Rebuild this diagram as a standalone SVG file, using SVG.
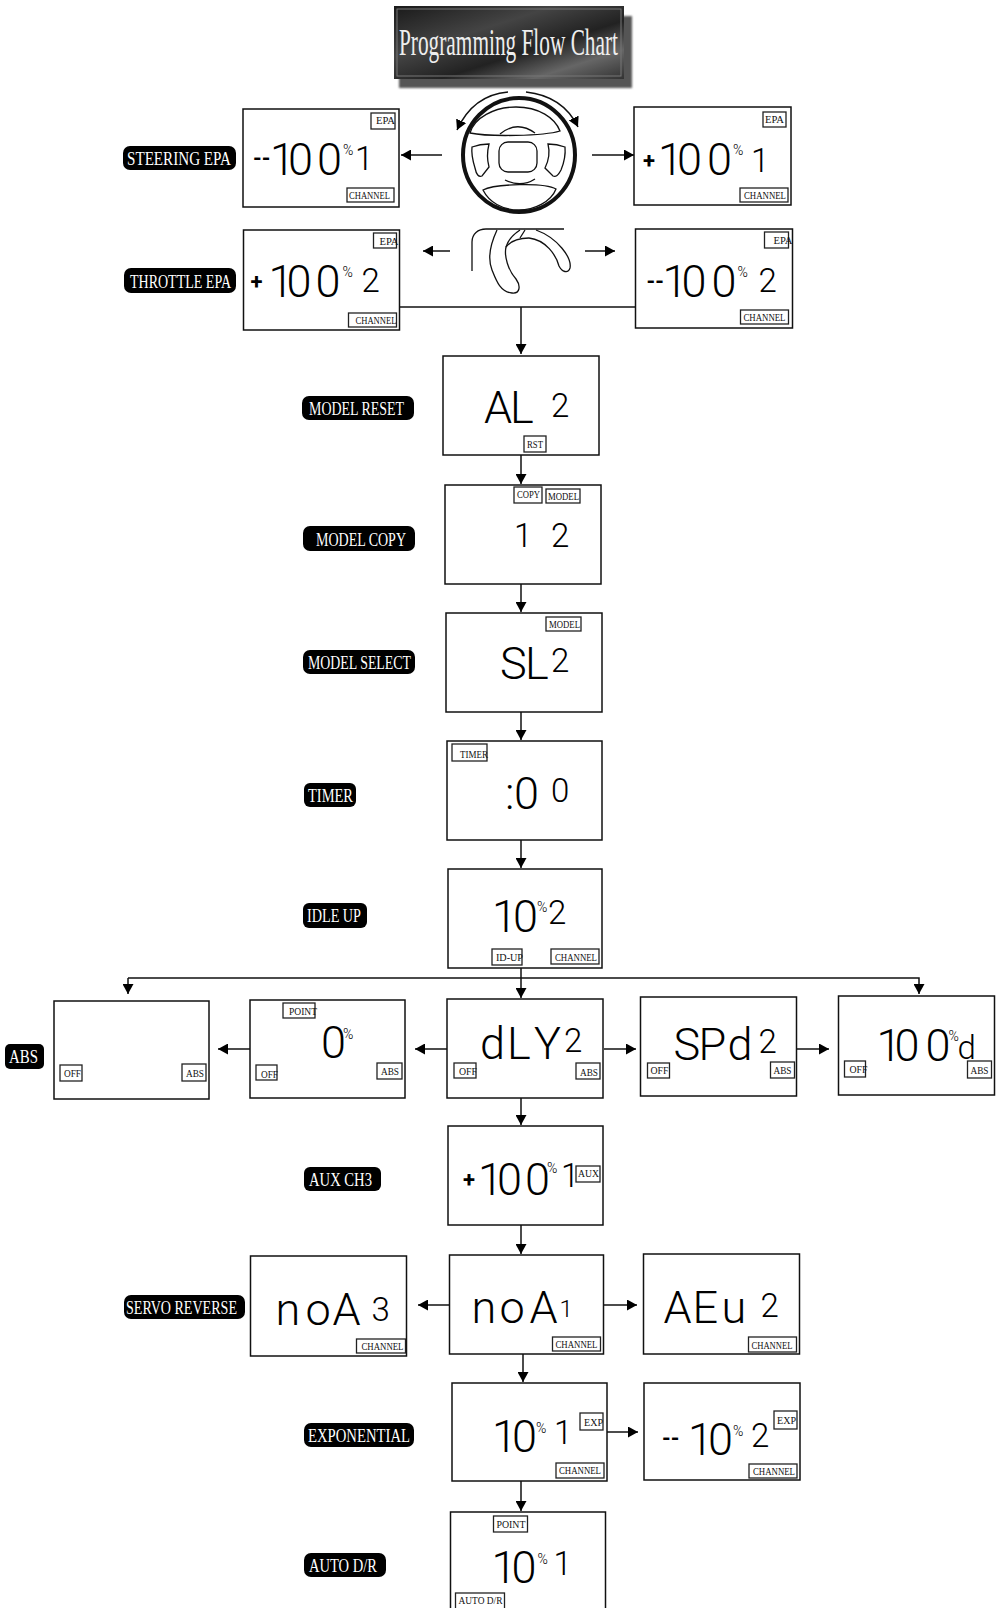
<svg xmlns="http://www.w3.org/2000/svg" width="1000" height="1608" viewBox="0 0 1000 1608">
<style>
.box{fill:#fff;stroke:#111;stroke-width:1.5}
.tr{fill:#fff;stroke:#222;stroke-width:1.3}
.tt{font:10.5px "Liberation Serif",serif;fill:#111}
.pr{fill:#000}
.pt{font:18px "Liberation Serif",serif;fill:#fff;transform:translateY(1px)}
.lcd{font-family:Roboto,"Liberation Sans",sans-serif;font-weight:300;font-size:45px;fill:#000}
.ch{font-size:33px}
.pc{font-size:14px}
.ds{font-weight:700;font-size:22px}
.c{fill:none;stroke:#111;stroke-width:1.5}
.w{fill:none;stroke:#111;stroke-width:1.3}
</style>
<defs>
<marker id="ah" markerUnits="userSpaceOnUse" markerWidth="10" markerHeight="11" refX="10" refY="5.5" orient="auto"><path d="M0,0L10,5.5L0,11z" fill="#000"/></marker>
<linearGradient id="tg" x1="0" y1="0" x2="1" y2="1"><stop offset="0" stop-color="#1a1a1a"/><stop offset=".35" stop-color="#444"/><stop offset=".6" stop-color="#222"/><stop offset=".8" stop-color="#666"/><stop offset="1" stop-color="#333"/></linearGradient>
<filter id="bl" x="-5%" y="-10%" width="110%" height="120%"><feGaussianBlur stdDeviation="1.2"/></filter>
</defs>

<g id="title">
<rect x="399" y="16" width="233" height="72" fill="#555" filter="url(#bl)"/>
<rect x="394" y="6" width="230" height="73" fill="url(#tg)"/>
<rect x="397" y="9" width="224" height="67" fill="none" stroke="#777"/>
<text x="399" y="55" font-family="Liberation Serif,serif" font-size="38" fill="#eee" textLength="219" lengthAdjust="spacingAndGlyphs">Programming Flow Chart</text>
</g>

<g id="wheel" class="w" transform="translate(-1,0)">
<ellipse cx="520" cy="155" rx="56" ry="57" style="stroke-width:4"/>
<path d="M471,133C475,118 495,107 517,107C540,107 556,118 561,131C545,136 490,137 471,133Z"/>
<path d="M501,134Q518,120 536,133"/>
<path d="M484,190C495,184 545,182 557,189C552,202 535,210 520,210C503,210 490,202 484,190Z"/>
<path d="M506,180Q522,188 536,179"/>
<rect x="500" y="142" width="38" height="30" rx="9"/>
<path d="M473,147Q481,144 490,144Q487,156 490,167L483,176Q478,178 476,168Q472,155 473,147Z"/>
<path d="M549,144Q558,144 566,147Q567,158 562,170Q558,178 554,176L546,168Q552,156 549,144Z"/>
</g>

<g id="lever" class="w" transform="translate(-2,0)">
<path d="M474,271V242C474,234 480,229 488,229H566"/>
<path d="M499,230C492,245 490,260 494,270C498,280 502,292 514,293C522,294 523,286 518,279C510,270 506,256 508,247C510,240 516,234 522,230"/>
<path d="M522,238L527,230M531,238C548,240 558,255 561,266C564,272 570,274 572,268C574,258 560,238 538,230"/>
<path d="M508,247C512,242 520,238 531,238"/>
</g>

<g id="connectors" class="c">
<path d="M442,155H401" marker-end="url(#ah)"/>
<path d="M592,155H634" marker-end="url(#ah)"/>
<path d="M450,251H423" marker-end="url(#ah)"/>
<path d="M585,251H615" marker-end="url(#ah)"/>
<path d="M508,92Q473,95 457,130" marker-end="url(#ah)"/>
<path d="M526,92Q563,96 578,127" marker-end="url(#ah)"/>
<path d="M400,307H636"/>
<path d="M521,307V354" marker-end="url(#ah)"/>
<path d="M521,455V484" marker-end="url(#ah)"/>
<path d="M521,584V612" marker-end="url(#ah)"/>
<path d="M521,712V740" marker-end="url(#ah)"/>
<path d="M521,840V868" marker-end="url(#ah)"/>
<path d="M521,968V998" marker-end="url(#ah)"/>
<path d="M128,978H919V994" marker-end="url(#ah)"/>
<path d="M128,978V994" marker-end="url(#ah)"/>
<path d="M447,1049H415" marker-end="url(#ah)"/>
<path d="M250,1049H218" marker-end="url(#ah)"/>
<path d="M604,1049H636" marker-end="url(#ah)"/>
<path d="M797,1049H829" marker-end="url(#ah)"/>
<path d="M521,1098V1125" marker-end="url(#ah)"/>
<path d="M521,1225V1254" marker-end="url(#ah)"/>
<path d="M450,1305H418" marker-end="url(#ah)"/>
<path d="M604,1305H637" marker-end="url(#ah)"/>
<path d="M523,1354V1382" marker-end="url(#ah)"/>
<path d="M607,1432H638" marker-end="url(#ah)"/>
<path d="M521,1481V1511" marker-end="url(#ah)"/>
</g>

<g id="steering-epa-label"><rect class="pr" x="123" y="146" width="113" height="24" rx="7"/><text class="pt" x="127" y="164" textLength="104" lengthAdjust="spacingAndGlyphs">STEERING EPA</text></g>
<g id="throttle-epa-label"><rect class="pr" x="124" y="268" width="112" height="25" rx="7"/><text class="pt" x="130" y="287" textLength="101" lengthAdjust="spacingAndGlyphs">THROTTLE EPA</text></g>
<g id="model-reset-label"><rect class="pr" x="302" y="396" width="112" height="24" rx="7"/><text class="pt" x="309" y="414" textLength="95" lengthAdjust="spacingAndGlyphs">MODEL RESET</text></g>
<g id="model-copy-label"><rect class="pr" x="303" y="526" width="112" height="25" rx="7"/><text class="pt" x="316" y="545" textLength="90" lengthAdjust="spacingAndGlyphs">MODEL COPY</text></g>
<g id="model-select-label"><rect class="pr" x="303" y="650" width="112" height="24" rx="7"/><text class="pt" x="308" y="668" textLength="103" lengthAdjust="spacingAndGlyphs">MODEL SELECT</text></g>
<g id="timer-label"><rect class="pr" x="304" y="783" width="52" height="24" rx="6"/><text class="pt" x="308" y="801" textLength="45" lengthAdjust="spacingAndGlyphs">TIMER</text></g>
<g id="idle-up-label"><rect class="pr" x="303" y="903" width="64" height="25" rx="6"/><text class="pt" x="307" y="921" textLength="54" lengthAdjust="spacingAndGlyphs">IDLE UP</text></g>
<g id="abs-label"><rect class="pr" x="5" y="1044" width="39" height="25" rx="5"/><text class="pt" x="9" y="1062" textLength="29" lengthAdjust="spacingAndGlyphs">ABS</text></g>
<g id="aux-label"><rect class="pr" x="304" y="1167" width="77" height="24" rx="6"/><text class="pt" x="309" y="1185" textLength="63" lengthAdjust="spacingAndGlyphs">AUX CH3</text></g>
<g id="servo-label"><rect class="pr" x="124" y="1295" width="121" height="24" rx="7"/><text class="pt" x="126" y="1313" textLength="111" lengthAdjust="spacingAndGlyphs">SERVO REVERSE</text></g>
<g id="exp-label"><rect class="pr" x="304" y="1423" width="110" height="24" rx="7"/><text class="pt" x="308" y="1441" textLength="102" lengthAdjust="spacingAndGlyphs">EXPONENTIAL</text></g>
<g id="auto-label"><rect class="pr" x="304" y="1553" width="82" height="24" rx="7"/><text class="pt" x="309" y="1571" textLength="68" lengthAdjust="spacingAndGlyphs">AUTO D/R</text></g>

<g id="lcd-steer-left" transform="translate(-1,0)"><rect class="box" x="244" y="109" width="156" height="98"/>
<rect class="tr" x="372" y="113" width="24" height="16"/><text class="tt" x="377" y="124" textLength="19" lengthAdjust="spacingAndGlyphs">EPA</text>
<rect class="tr" x="348" y="188" width="47" height="14"/><text class="tt" x="350" y="198.500" textLength="41" lengthAdjust="spacingAndGlyphs">CHANNEL</text>
<text class="lcd"><tspan class="ds" x="254" y="166">--</tspan><tspan x="271 289 318" y="175">100</tspan><tspan class="pc" x="344" y="155">%</tspan><tspan class="ch" x="356" y="170">1</tspan></text></g>

<g id="lcd-steer-right" transform="translate(-3,0)"><rect class="box" x="637" y="107" width="157" height="98"/>
<rect class="tr" x="766" y="112" width="23" height="15"/><text class="tt" x="768" y="123" textLength="19" lengthAdjust="spacingAndGlyphs">EPA</text>
<rect class="tr" x="743" y="188" width="48" height="14"/><text class="tt" x="747" y="198.500" textLength="42" lengthAdjust="spacingAndGlyphs">CHANNEL</text>
<text class="lcd"><tspan class="ds" x="646" y="168">+</tspan><tspan x="661 680 710" y="175">100</tspan><tspan class="pc" x="736" y="155">%</tspan><tspan class="ch" x="754" y="172">1</tspan></text></g>

<g id="lcd-throttle-left" transform="translate(-1.500,0)"><rect class="box" x="245" y="230" width="156" height="100"/>
<rect class="tr" x="375" y="233" width="23" height="15"/><text class="tt" x="381" y="245" textLength="19" lengthAdjust="spacingAndGlyphs">EPA</text>
<rect class="tr" x="350" y="313" width="48" height="14"/><text class="tt" x="357" y="324" textLength="41" lengthAdjust="spacingAndGlyphs">CHANNEL</text>
<text class="lcd"><tspan class="ds" x="252" y="289">+</tspan><tspan x="270 288 317" y="297">100</tspan><tspan class="pc" x="344" y="277">%</tspan><tspan class="ch" x="363" y="292">2</tspan></text></g>

<g id="lcd-throttle-right" transform="translate(-2.500,0)"><rect class="box" x="638" y="229" width="157" height="99"/>
<rect class="tr" x="767" y="232" width="24" height="16"/><text class="tt" x="776" y="244" textLength="19" lengthAdjust="spacingAndGlyphs">EPA</text>
<rect class="tr" x="743" y="310" width="48" height="14"/><text class="tt" x="746" y="321" textLength="42" lengthAdjust="spacingAndGlyphs">CHANNEL</text>
<text class="lcd"><tspan class="ds" x="649" y="289">--</tspan><tspan x="665 684 714" y="297">100</tspan><tspan class="pc" x="740" y="277">%</tspan><tspan class="ch" x="761" y="292">2</tspan></text></g>

<g id="lcd-reset"><rect class="box" x="443" y="356" width="156" height="99"/>
<rect class="tr" x="524" y="436" width="22" height="16"/><text class="tt" x="527" y="447.500" textLength="16" lengthAdjust="spacingAndGlyphs">RST</text>
<text class="lcd"><tspan x="484 510" y="423">AL</tspan><tspan class="ch" x="551" y="417">2</tspan></text></g>

<g id="lcd-copy"><rect class="box" x="445" y="485" width="156" height="99"/>
<rect class="tr" x="514" y="487" width="28" height="16"/><text class="tt" x="517" y="498" textLength="23" lengthAdjust="spacingAndGlyphs">COPY</text>
<rect class="tr" x="546" y="489" width="34" height="14"/><text class="tt" x="548" y="500" textLength="31" lengthAdjust="spacingAndGlyphs">MODEL</text>
<text class="lcd"><tspan class="ch" x="514" y="547">1</tspan><tspan class="ch" x="551" y="547">2</tspan></text></g>

<g id="lcd-select"><rect class="box" x="446" y="613" width="156" height="99"/>
<rect class="tr" x="546" y="617" width="35" height="14"/><text class="tt" x="549" y="628" textLength="31" lengthAdjust="spacingAndGlyphs">MODEL</text>
<text class="lcd"><tspan x="500 525" y="679">SL</tspan><tspan class="ch" x="551" y="672">2</tspan></text></g>

<g id="lcd-timer"><rect class="box" x="447" y="741" width="155" height="99"/>
<rect class="tr" x="452" y="744" width="35" height="17"/><text class="tt" x="460" y="758" textLength="28" lengthAdjust="spacingAndGlyphs">TIMER</text>
<text class="lcd"><tspan x="505 514" y="809">:0</tspan><tspan class="ch" x="551" y="802">0</tspan></text></g>

<g id="lcd-idle"><rect class="box" x="448" y="869" width="154" height="99"/>
<rect class="tr" x="492" y="949" width="30" height="16"/><text class="tt" x="496" y="960.500" textLength="27" lengthAdjust="spacingAndGlyphs">ID-UP</text>
<rect class="tr" x="551" y="949" width="48" height="15"/><text class="tt" x="555" y="961" textLength="42" lengthAdjust="spacingAndGlyphs">CHANNEL</text>
<text class="lcd"><tspan x="492 513" y="932">10</tspan><tspan class="pc" x="537" y="912">%</tspan><tspan class="ch" x="548" y="924">2</tspan></text></g>

<g id="lcd-abs"><rect class="box" x="54" y="1001" width="155" height="98"/>
<rect class="tr" x="60" y="1065" width="22" height="16"/><text class="tt" x="64" y="1077" textLength="17" lengthAdjust="spacingAndGlyphs">OFF</text>
<rect class="tr" x="182" y="1064" width="24" height="17"/><text class="tt" x="186" y="1076.500" textLength="18" lengthAdjust="spacingAndGlyphs">ABS</text></g>

<g id="lcd-point"><rect class="box" x="250" y="1000" width="155" height="98"/>
<rect class="tr" x="283" y="1003" width="32" height="15"/><text class="tt" x="289" y="1014.500" textLength="28" lengthAdjust="spacingAndGlyphs">POINT</text>
<rect class="tr" x="256" y="1065" width="21" height="15"/><text class="tt" x="261" y="1078" textLength="17" lengthAdjust="spacingAndGlyphs">OFF</text>
<rect class="tr" x="377" y="1063" width="25" height="16"/><text class="tt" x="381" y="1075" textLength="18" lengthAdjust="spacingAndGlyphs">ABS</text>
<text class="lcd"><tspan x="321" y="1058">0</tspan><tspan class="pc" x="343" y="1039">%</tspan></text></g>

<g id="lcd-dly"><rect class="box" x="447" y="999" width="156" height="99"/>
<rect class="tr" x="454" y="1063" width="22" height="15"/><text class="tt" x="459" y="1075" textLength="18" lengthAdjust="spacingAndGlyphs">OFF</text>
<rect class="tr" x="576" y="1063" width="24" height="16"/><text class="tt" x="580" y="1075.500" textLength="18" lengthAdjust="spacingAndGlyphs">ABS</text>
<text class="lcd"><tspan x="480 507 534" y="1059">dLY</tspan><tspan class="ch" x="564" y="1052">2</tspan></text></g>

<g id="lcd-spd" transform="translate(-1.500,0)"><rect class="box" x="642" y="997" width="156" height="99"/>
<rect class="tr" x="649" y="1063" width="22" height="15"/><text class="tt" x="652" y="1074" textLength="18" lengthAdjust="spacingAndGlyphs">OFF</text>
<rect class="tr" x="772" y="1062" width="24" height="16"/><text class="tt" x="775" y="1074" textLength="18" lengthAdjust="spacingAndGlyphs">ABS</text>
<text class="lcd"><tspan x="675 700 729" y="1060">SPd</tspan><tspan class="ch" x="760" y="1053">2</tspan></text></g>

<g id="lcd-hundred" transform="translate(-2.500,0)"><rect class="box" x="841" y="996" width="156" height="99"/>
<rect class="tr" x="847" y="1061" width="21" height="16"/><text class="tt" x="852" y="1072.500" textLength="18" lengthAdjust="spacingAndGlyphs">OFF</text>
<rect class="tr" x="970" y="1061" width="24" height="17"/><text class="tt" x="973" y="1073.500" textLength="18" lengthAdjust="spacingAndGlyphs">ABS</text>
<text class="lcd"><tspan x="879 897 928" y="1061">100</tspan><tspan class="pc" x="951" y="1041">%</tspan><tspan class="ch" x="960" y="1059">d</tspan></text></g>

<g id="lcd-aux"><rect class="box" x="448" y="1126" width="155" height="99"/>
<rect class="tr" x="576" y="1166" width="24" height="16"/><text class="tt" x="578" y="1177" textLength="21" lengthAdjust="spacingAndGlyphs">AUX</text>
<text class="lcd"><tspan class="ds" x="463" y="1187">+</tspan><tspan x="478 497 525" y="1195">100</tspan><tspan class="pc" x="547" y="1173">%</tspan><tspan class="ch" x="561" y="1187">1</tspan></text></g>

<g id="lcd-noa3" transform="translate(-2.500,0)"><rect class="box" x="253" y="1256" width="156" height="100"/>
<rect class="tr" x="359" y="1339" width="49" height="14"/><text class="tt" x="364" y="1350" textLength="42" lengthAdjust="spacingAndGlyphs">CHANNEL</text>
<text class="lcd"><tspan x="278 308 335" y="1325">noA</tspan><tspan class="ch" x="374" y="1321">3</tspan></text></g>

<g id="lcd-noa1" transform="translate(-4.500,0)"><rect class="box" x="454" y="1255" width="154" height="99"/>
<rect class="tr" x="557" y="1337" width="48" height="14"/><text class="tt" x="560" y="1348" textLength="42" lengthAdjust="spacingAndGlyphs">CHANNEL</text>
<text class="lcd"><tspan x="476 504 534" y="1323">noA</tspan><tspan class="ch" x="564" y="1317" style="font-size:24px">1</tspan></text></g>

<g id="lcd-rev" transform="translate(-5.500,0)"><rect class="box" x="649" y="1254" width="156" height="100"/>
<rect class="tr" x="754" y="1337" width="48" height="15"/><text class="tt" x="757" y="1349" textLength="41" lengthAdjust="spacingAndGlyphs">CHANNEL</text>
<text class="lcd"><tspan x="669 698 727" y="1323">AEu</tspan><tspan class="ch" x="766" y="1317">2</tspan></text></g>

<g id="lcd-exp1" transform="translate(-4,0)"><rect class="box" x="456" y="1383" width="155" height="98"/>
<rect class="tr" x="584" y="1413" width="23" height="17"/><text class="tt" x="588" y="1426" textLength="19" lengthAdjust="spacingAndGlyphs">EXP</text>
<rect class="tr" x="560" y="1463" width="48" height="15"/><text class="tt" x="563" y="1474" textLength="42" lengthAdjust="spacingAndGlyphs">CHANNEL</text>
<text class="lcd"><tspan x="496 516" y="1452">10</tspan><tspan class="pc" x="540" y="1433">%</tspan><tspan class="ch" x="558" y="1444">1</tspan></text></g>

<g id="lcd-exp2" transform="translate(-6,0)"><rect class="box" x="650" y="1383" width="156" height="97"/>
<rect class="tr" x="780" y="1411" width="23" height="18"/><text class="tt" x="783" y="1424" textLength="19" lengthAdjust="spacingAndGlyphs">EXP</text>
<rect class="tr" x="755" y="1464" width="48" height="14"/><text class="tt" x="759" y="1475" textLength="42" lengthAdjust="spacingAndGlyphs">CHANNEL</text>
<text class="lcd"><tspan class="ds" x="668" y="1446">--</tspan><tspan x="694 714" y="1455">10</tspan><tspan class="pc" x="739" y="1436">%</tspan><tspan class="ch" x="757" y="1447">2</tspan></text></g>

<g id="lcd-auto" transform="translate(-4.500,0)"><rect class="box" x="455" y="1512" width="155" height="110"/>
<rect class="tr" x="498" y="1516" width="34" height="16"/><text class="tt" x="501" y="1528" textLength="29" lengthAdjust="spacingAndGlyphs">POINT</text>
<rect class="tr" x="460" y="1593" width="49" height="16"/><text class="tt" x="463" y="1604" textLength="44" lengthAdjust="spacingAndGlyphs">AUTO D/R</text>
<text class="lcd"><tspan x="496 516" y="1583">10</tspan><tspan class="pc" x="542" y="1564">%</tspan><tspan class="ch" x="558" y="1575">1</tspan></text></g>
</svg>
